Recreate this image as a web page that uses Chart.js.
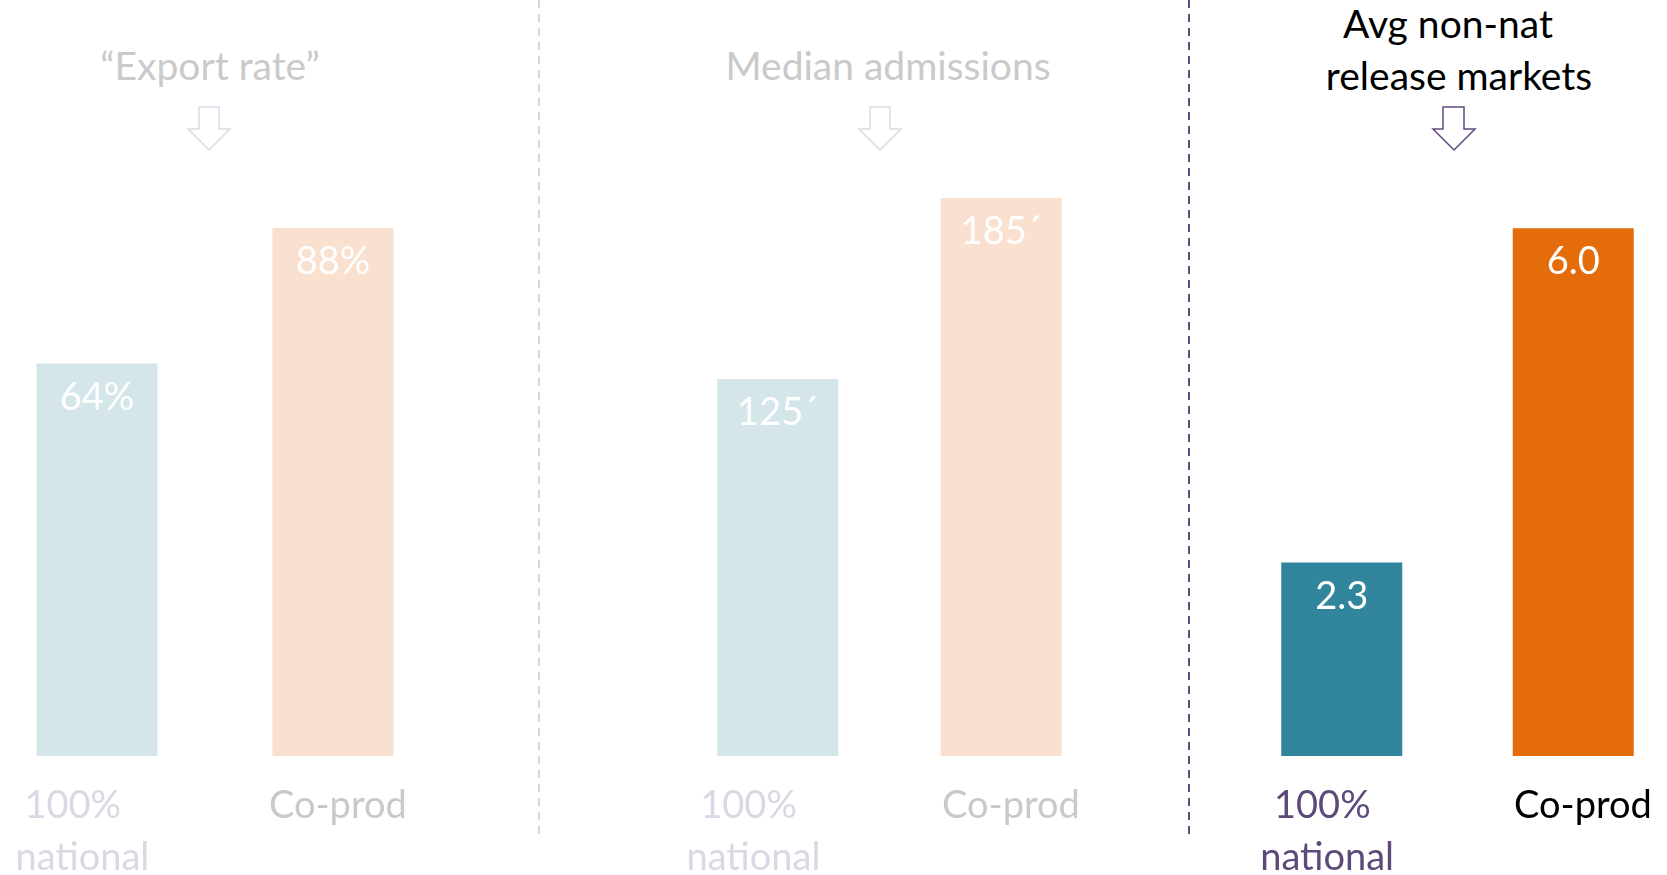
<!DOCTYPE html>
<html>
<head>
<meta charset="utf-8">
<script src="https://cdn.jsdelivr.net/npm/chart.js@4.4.1/dist/chart.umd.min.js"></script>
<style>
  html, body { margin: 0; padding: 0; background: #ffffff; }
  body { width: 1667px; height: 875px; overflow: hidden; position: relative; font-family: Lato, "Open Sans", sans-serif; }
  canvas { position: absolute; top: 0; }
  svg { position: absolute; left: 0; top: 0; }
</style>
</head>
<body>
<svg width="1667" height="875" viewBox="0 0 1667 875">
  <line x1="539" y1="0" x2="539" y2="840" stroke="#D9D6E0" stroke-width="2" stroke-dasharray="8 6"/>
  <line x1="1189" y1="0" x2="1189" y2="840" stroke="#604A7B" stroke-width="2" stroke-dasharray="8 6"/>
  <g font-family="Lato, 'Open Sans', sans-serif" font-size="39" text-anchor="middle">
    <text x="210" y="80" fill="#CACACA">“Export rate”</text>
    <text x="888" y="80" fill="#CACACA">Median admissions</text>
    <text x="1448" y="38" fill="#000000">Avg non-nat</text>
    <text x="1459" y="90" fill="#000000">release markets</text>
  </g>
  <polygon points="199,107 219,107 219,129 230,129 209,150 188,129 199,129" fill="none" stroke="#DCD9E6" stroke-width="1.5"/>
  <polygon points="870,107 890,107 890,129 901,129 880,150 859,129 870,129" fill="none" stroke="#DCD9E6" stroke-width="1.5"/>
  <polygon points="1443,107 1464,107 1464,129 1475,129 1454,150 1433,129 1443,129" fill="none" stroke="#604A7B" stroke-width="1.5"/>
</svg>
<canvas id="c1" width="472" height="875" style="left:-21px"></canvas>
<canvas id="c2" width="447" height="875" style="left:666px"></canvas>
<canvas id="c3" width="463" height="875" style="left:1226px"></canvas>
<script>
// ---- data ----
const categories1 = [["100%     ", "national   "], " Co-prod"];
const categories2 = [["100%      ", "national     "], "  Co-prod"];
const categories3 = [["100%    ", "national   "], "  Co-prod"];

const exportRate = [65.4, 88];            // % (bar heights as drawn)
const medianAdmissions = [125, 185];      // thousands
const avgMarkets = [2.2, 6.0];            // markets (bar heights as drawn)

const valueLabels1 = ["64%", "88%"];
const valueLabels2 = ["125´", "185´"];
const valueLabels3 = ["2.3", "6.0"];

const barColors1 = ["#D5E6EA", "#F9E0CF"];
const barColors2 = ["#D5E6EA", "#F9E0CF"];
const barColors3 = ["#31859C", "#E46C0A"];

const tickColors1 = ["#DCD7E4", "#C9C9C9"];
const tickColors2 = ["#DCD7E4", "#C9C9C9"];
const tickColors3 = ["#5F497A", "#000000"];

const FONT = "Lato, 'Open Sans', sans-serif";

const valueLabelPlugin = {
  id: 'valueLabels',
  afterDatasetsDraw(chart, args, opts) {
    const ctx = chart.ctx;
    const meta = chart.getDatasetMeta(0);
    ctx.save();
    ctx.font = "38px " + FONT;
    ctx.fillStyle = "#FFFFFF";
    ctx.textAlign = "center";
    ctx.textBaseline = "alphabetic";
    meta.data.forEach((bar, i) => {
      ctx.fillText(opts.labels[i], bar.x, bar.y + 46);
    });
    ctx.restore();
  }
};

function makeChart(id, cats, values, colors, tickColors, labels, yMax, barPct) {
  return new Chart(document.getElementById(id), {
    type: 'bar',
    data: {
      labels: cats,
      datasets: [{
        data: values,
        backgroundColor: colors,
        borderWidth: 0,
        categoryPercentage: 1,
        barPercentage: barPct
      }]
    },
    options: {
      responsive: false,
      animation: false,
      devicePixelRatio: 1,
      layout: { padding: { top: 180, left: 0, right: 0, bottom: 0 } },
      plugins: {
        legend: { display: false },
        tooltip: { enabled: false },
        valueLabels: { labels: labels }
      },
      scales: {
        x: {
          grid: { display: false },
          border: { display: false },
          ticks: {
            padding: 16,
            maxRotation: 0,
            autoSkip: false,
            font: { family: FONT, size: 38, lineHeight: 1.36 },
            color: (c) => tickColors[c.index]
          },
          afterFit: (scale) => {
            scale.height = 119;
            scale.paddingLeft = 0;
            scale.paddingRight = 0;
          }
        },
        y: {
          display: false,
          min: 0,
          max: yMax
        }
      }
    },
    plugins: [valueLabelPlugin]
  });
}

makeChart('c1', categories1, exportRate, barColors1, tickColors1, valueLabels1, 96, 0.5127);
makeChart('c2', categories2, medianAdmissions, barColors2, tickColors2, valueLabels2, 191, 0.5414);
makeChart('c3', categories3, avgMarkets, barColors3, tickColors3, valueLabels3, 6.55, 0.5227);
</script>
</body>
</html>
